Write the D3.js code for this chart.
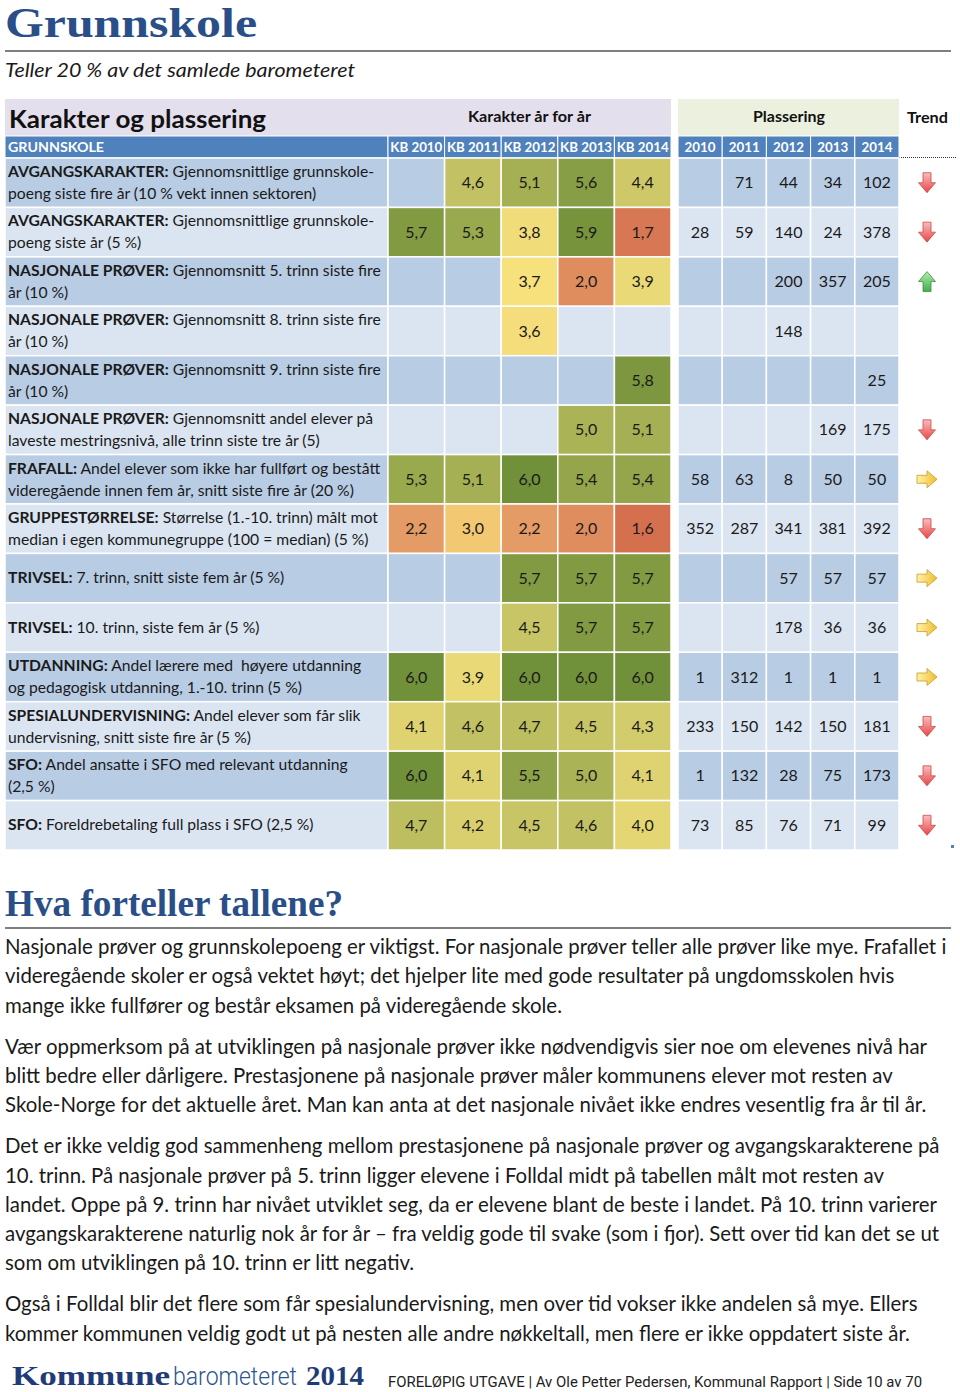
<!DOCTYPE html>
<html><head><meta charset="utf-8">
<script src="https://cdn.jsdelivr.net/npm/d3@7"></script>
<style>body{margin:0;background:#fff}svg{display:block}</style>
</head><body><svg id="c" width="960" height="1392"></svg>
<script>
// ---------- DATA ----------
const years = ["2010","2011","2012","2013","2014"];
const kbHeaders = ["KB 2010","KB 2011","KB 2012","KB 2013","KB 2014"];
const kb2010 = [null,5.7,null,null,null,null,5.3,2.2,null,null,6.0,4.1,6.0,4.7];
const kb2011 = [4.6,5.3,null,null,null,null,5.1,3.0,null,null,3.9,4.6,4.1,4.2];
const kb2012 = [5.1,3.8,3.7,3.6,null,null,6.0,2.2,5.7,4.5,6.0,4.7,5.5,4.5];
const kb2013 = [5.6,5.9,2.0,null,null,5.0,5.4,2.0,5.7,5.7,6.0,4.5,5.0,4.6];
const kb2014 = [4.4,1.7,3.9,null,5.8,5.1,5.4,1.6,5.7,5.7,6.0,4.3,4.1,4.0];
const pl2010 = [null,28,null,null,null,null,58,352,null,null,1,233,1,73];
const pl2011 = [71,59,null,null,null,null,63,287,null,null,312,150,132,85];
const pl2012 = [44,140,200,148,null,null,8,341,57,178,1,142,28,76];
const pl2013 = [34,24,357,null,null,169,50,381,57,36,1,150,75,71];
const pl2014 = [102,378,205,null,25,175,50,392,57,36,1,181,173,99];
const trend = ["down","down","up",null,null,"down","right","down","right","right","right","down","down","down"];
const labelBold = ["AVGANGSKARAKTER:","AVGANGSKARAKTER:","NASJONALE PRØVER:","NASJONALE PRØVER:","NASJONALE PRØVER:","NASJONALE PRØVER:","FRAFALL:","GRUPPESTØRRELSE:","TRIVSEL:","TRIVSEL:","UTDANNING:","SPESIALUNDERVISNING:","SFO:","SFO:"];
const labelLine1 = [" Gjennomsnittlige grunnskole-"," Gjennomsnittlige grunnskole-"," Gjennomsnitt 5. trinn siste fire"," Gjennomsnitt 8. trinn siste fire"," Gjennomsnitt 9. trinn siste fire"," Gjennomsnitt andel elever på"," Andel elever som ikke har fullført og bestått"," Størrelse (1.-10. trinn) målt mot"," 7. trinn, snitt siste fem år (5 %)"," 10. trinn, siste fem år (5 %)"," Andel lærere med  høyere utdanning"," Andel elever som får slik"," Andel ansatte i SFO med relevant utdanning"," Foreldrebetaling full plass i SFO (2,5 %)"];
const labelLine2 = ["poeng siste fire år (10 % vekt innen sektoren)","poeng siste år (5 %)","år (10 %)","år (10 %)","år (10 %)","laveste mestringsnivå, alle trinn siste tre år (5)","videregående innen fem år, snitt siste fire år (20 %)","median i egen kommunegruppe (100 = median) (5 %)",null,null,"og pedagogisk utdanning, 1.-10. trinn (5 %)","undervisning, snitt siste fire år (5 %)","(2,5 %)",null];
const paragraphs = [
 ["Nasjonale prøver og grunnskolepoeng er viktigst. For nasjonale prøver teller alle prøver like mye. Frafallet i",
  "videregående skoler er også vektet høyt; det hjelper lite med gode resultater på ungdomsskolen hvis",
  "mange ikke fullfører og består eksamen på videregående skole."],
 ["Vær oppmerksom på at utviklingen på nasjonale prøver ikke nødvendigvis sier noe om elevenes nivå har",
  "blitt bedre eller dårligere. Prestasjonene på nasjonale prøver måler kommunens elever mot resten av",
  "Skole-Norge for det aktuelle året. Man kan anta at det nasjonale nivået ikke endres vesentlig fra år til år."],
 ["Det er ikke veldig god sammenheng mellom prestasjonene på nasjonale prøver og avgangskarakterene på",
  "10. trinn. På nasjonale prøver på 5. trinn ligger elevene i Folldal midt på tabellen målt mot resten av",
  "landet. Oppe på 9. trinn har nivået utviklet seg, da er elevene blant de beste i landet. På 10. trinn varierer",
  "avgangskarakterene naturlig nok år for år – fra veldig gode til svake (som i fjor). Sett over tid kan det se ut",
  "som om utviklingen på 10. trinn er litt negativ."],
 ["Også i Folldal blir det flere som får spesialundervisning, men over tid vokser ikke andelen så mye. Ellers",
  "kommer kommunen veldig godt ut på nesten alle andre nøkkeltall, men flere er ikke oppdatert siste år."]
];

// ---------- DRAW ----------
const svg = d3.select("#c");
const SANS = "Lato, 'Open Sans', sans-serif";
const SERIF = "'Liberation Serif', 'DejaVu Serif', serif";
const NARROW = "'Liberation Sans Narrow','Roboto',sans-serif";
const karSeries = [kb2010,kb2011,kb2012,kb2013,kb2014];
const plSeries = [pl2010,pl2011,pl2012,pl2013,pl2014];
const nRows = labelBold.length;

function fitW(sel, w){ sel.attr("textLength", w).attr("lengthAdjust","spacingAndGlyphs"); return sel; }

// Title
fitW(svg.append("text").attr("x",5).attr("y",37).attr("font-family",SERIF).attr("font-weight","bold")
  .attr("font-size",42).attr("fill","#2a4e88").text("Grunnskole"), 252);
svg.append("line").attr("x1",5).attr("x2",951).attr("y1",51).attr("y2",51).attr("stroke","#555").attr("stroke-width",1.3);
fitW(svg.append("text").attr("x",5).attr("y",77).attr("font-family",SANS).attr("font-style","italic")
  .attr("font-size",19).attr("fill","#1a1a1a").text("Teller 20 % av det samlede barometeret"), 350);

// scales
const xK = d3.scaleBand().domain(years).range([388, 671]);
const xP = d3.scaleBand().domain(years).range([678, 899]);
const y = d3.scaleBand().domain(d3.range(nRows)).range([158, 850]);
const color = d3.scaleLinear().domain([1.6,2.0,2.2,3.0,3.7,6.0])
  .range(["#d5704f","#df8c5e","#e49b65","#f2c872","#f6e17d","#71903a"]).interpolate(d3.interpolateRgb);
const fmt = v => d3.format(".1f")(v).replace(".", ",");
const rowBg = i => i % 2 === 0 ? "#b8cce4" : "#dbe5f1";

// header backgrounds
svg.append("rect").attr("x",5).attr("y",99).attr("width",666).attr("height",37).attr("fill","#e4dfec");
svg.append("rect").attr("x",678).attr("y",99).attr("width",221).attr("height",37).attr("fill","#ebf1de");
fitW(svg.append("text").attr("x",9).attr("y",128).attr("font-family",SANS).attr("font-weight","bold")
  .attr("font-size",25).attr("fill","#111").text("Karakter og plassering"), 257);
fitW(svg.append("text").attr("x",468).attr("y",122).attr("font-family",SANS).attr("font-weight","bold")
  .attr("font-size",15).attr("fill","#111").text("Karakter år for år"), 123);
fitW(svg.append("text").attr("x",753).attr("y",122).attr("font-family",SANS).attr("font-weight","bold")
  .attr("font-size",15).attr("fill","#111").text("Plassering"), 72);
fitW(svg.append("text").attr("x",907).attr("y",123).attr("font-family",SANS).attr("font-weight","bold")
  .attr("font-size",15).attr("fill","#111").text("Trend"), 41);

// blue header row
const hdrY = 136, hdrH = 22;
svg.append("rect").attr("x",5).attr("y",hdrY).attr("width",383).attr("height",hdrH).attr("fill","#4f81bd").attr("stroke","#fff").attr("stroke-width",1);
fitW(svg.append("text").attr("x",8).attr("y",152).attr("font-family",SANS).attr("font-weight","bold")
  .attr("font-size",14).attr("fill","#fff").text("GRUNNSKOLE"), 96);
const kh = svg.append("g");
kh.selectAll("rect").data(years).join("rect").attr("x",d=>xK(d)).attr("y",hdrY).attr("width",xK.bandwidth()).attr("height",hdrH)
  .attr("fill","#4f81bd").attr("stroke","#fff").attr("stroke-width",1);
kh.selectAll("text").data(kbHeaders).join("text").attr("x",(d,i)=>xK(years[i])+xK.bandwidth()/2).attr("y",152)
  .attr("text-anchor","middle").attr("font-family",SANS).attr("font-weight","bold").attr("font-size",13.5).attr("fill","#fff")
  .attr("textLength",52).attr("lengthAdjust","spacingAndGlyphs").text(d=>d);
const ph = svg.append("g");
ph.selectAll("rect").data(years).join("rect").attr("x",d=>xP(d)).attr("y",hdrY).attr("width",xP.bandwidth()).attr("height",hdrH)
  .attr("fill","#4f81bd").attr("stroke","#fff").attr("stroke-width",1);
ph.selectAll("text").data(years).join("text").attr("x",d=>xP(d)+xP.bandwidth()/2).attr("y",152)
  .attr("text-anchor","middle").attr("font-family",SANS).attr("font-weight","bold").attr("font-size",14).attr("fill","#fff")
  .attr("textLength",31).attr("lengthAdjust","spacingAndGlyphs").text(d=>d);
svg.append("line").attr("x1",899).attr("x2",957).attr("y1",157.5).attr("y2",157.5).attr("stroke","#333").attr("stroke-width",1).attr("stroke-dasharray","1,1");

// rows
const rows = svg.append("g").selectAll("g").data(d3.range(nRows)).join("g");
rows.append("rect").attr("x",5).attr("y",i=>y(i)).attr("width",383).attr("height",y.bandwidth())
  .attr("fill",rowBg).attr("stroke","#fff").attr("stroke-width",1.5);

// label text
const LBL = 15.2;
const lbl = rows.append("g").attr("font-family",SANS).attr("font-size",LBL).attr("fill","#1a1a1a");
lbl.each(function(i){
  const g = d3.select(this);
  const two = labelLine2[i] !== null;
  const t1 = g.append("text").attr("class","lblline").attr("x",8).attr("y", two ? y(i)+19 : y(i)+y.bandwidth()/2+5);
  t1.append("tspan").attr("font-weight","bold").text(labelBold[i]);
  t1.append("tspan").style("white-space","pre").text(labelLine1[i]);
  if (two) g.append("text").attr("class","lblline").attr("x",8).attr("y",y(i)+41).text(labelLine2[i]);
});

// karakter + plassering cells
rows.each(function(i){
  const g = d3.select(this);
  karSeries.forEach((s,j)=>{
    const v = s[i];
    g.append("rect").attr("x",xK(years[j])).attr("y",y(i)).attr("width",xK.bandwidth()).attr("height",y.bandwidth())
      .attr("fill", v==null ? rowBg(i) : color(v)).attr("stroke","#fff").attr("stroke-width",1.5);
    if (v!=null) g.append("text").attr("x",xK(years[j])+xK.bandwidth()/2).attr("y",y(i)+y.bandwidth()/2+5.5)
      .attr("text-anchor","middle").attr("font-family",SANS).attr("font-size",16).attr("fill","#1a1a1a").text(fmt(v));
  });
  plSeries.forEach((s,j)=>{
    const v = s[i];
    g.append("rect").attr("x",xP(years[j])).attr("y",y(i)).attr("width",xP.bandwidth()).attr("height",y.bandwidth())
      .attr("fill", rowBg(i)).attr("stroke","#fff").attr("stroke-width",1.5);
    if (v!=null) g.append("text").attr("x",xP(years[j])+xP.bandwidth()/2).attr("y",y(i)+y.bandwidth()/2+5.5)
      .attr("text-anchor","middle").attr("font-family",SANS).attr("font-size",16).attr("fill","#1a1a1a").text(v);
  });
});

// arrows
const defs = svg.append("defs");
function grad(id, c1, c2){
  const g = defs.append("linearGradient").attr("id",id).attr("x1",0).attr("y1",0).attr("x2",0).attr("y2",1);
  g.append("stop").attr("offset","0%").attr("stop-color",c1);
  g.append("stop").attr("offset","100%").attr("stop-color",c2);
}
grad("gDown","#fcbcbc","#e4474a");
grad("gUp","#3fae4a","#b5ecb0");
grad("gRight","#fff2a8","#efbd2e");
const arrowPts = "-4,-10 4,-10 4,0 8.5,0 0,10 -8.5,0 -4,0";
const arrowStyle = {down:["url(#gDown)","#cc4a45",0], up:["url(#gUp)","#3b8f3f",180], right:["url(#gRight)","#c99a25",-90]};
rows.filter(i=>trend[i]!==null).append("polygon")
  .attr("points",arrowPts)
  .attr("transform",i=>`translate(927,${y(i)+y.bandwidth()/2}) rotate(${arrowStyle[trend[i]][2]})`)
  .attr("fill",i=>arrowStyle[trend[i]][0]).attr("stroke",i=>arrowStyle[trend[i]][1]).attr("stroke-width",0.8);
svg.append("rect").attr("x",951).attr("y",845).attr("width",3).attr("height",3).attr("fill","#4f81bd");

// fit label font
(function(){
  const ref = lbl.filter(i=>i===6).select("text.lblline").node();
  const w = ref.getComputedTextLength();
  lbl.attr("font-size", LBL * 372 / w);
})();

// lower section
fitW(svg.append("text").attr("x",5).attr("y",916).attr("font-family",SERIF).attr("font-weight","bold")
  .attr("font-size",37).attr("fill","#2a4e88").text("Hva forteller tallene?"), 338);
svg.append("line").attr("x1",5).attr("x2",951).attr("y1",928).attr("y2",928).attr("stroke","#555").attr("stroke-width",1.3);

const pg = svg.append("g").attr("font-family",SANS).attr("font-size",20).attr("fill","#1a1a1a");
let by = 954;
const allLines = [];
paragraphs.forEach(p=>{
  p.forEach((line,li)=>{ allLines.push({t:line,y:by}); by += (li < p.length-1) ? 29.3 : 41; });
});
pg.selectAll("text").data(allLines).join("text").attr("x",5).attr("y",d=>d.y).text(d=>d.t);
(function(){
  const w = pg.select("text").node().getComputedTextLength();
  pg.attr("font-size", 20*942/w);
})();

// footer
fitW(svg.append("text").attr("x",12).attr("y",1385).attr("font-family",SERIF).attr("font-weight","bold")
  .attr("font-size",27).attr("fill","#1f3c78").text("Kommune"), 158);
fitW(svg.append("text").attr("x",173).attr("y",1385).attr("font-family",NARROW).attr("font-weight","300")
  .attr("font-size",25).attr("fill","#2d5590").text("barometeret"), 124);
fitW(svg.append("text").attr("x",306).attr("y",1385).attr("font-family",SERIF).attr("font-weight","bold")
  .attr("font-size",27).attr("fill","#1f3c78").text("2014"), 58);
fitW(svg.append("text").attr("x",388).attr("y",1387).attr("font-family",NARROW)
  .attr("font-size",15).attr("fill","#222").text("FORELØPIG UTGAVE | Av Ole Petter Pedersen, Kommunal Rapport | Side 10 av 70"), 534);
</script></body></html>
